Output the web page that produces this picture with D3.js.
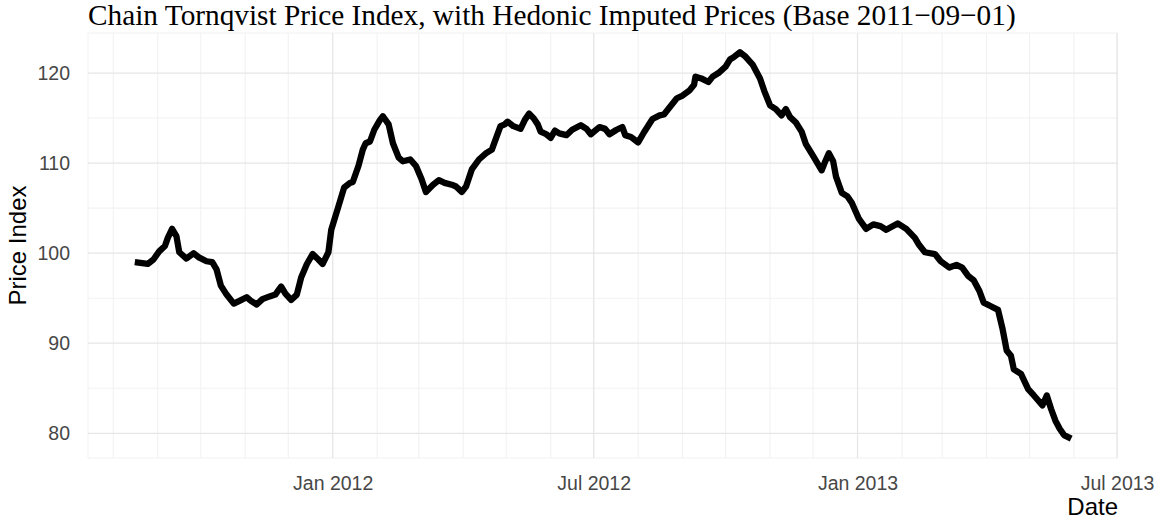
<!DOCTYPE html>
<html>
<head>
<meta charset="utf-8">
<script src="https://cdn.jsdelivr.net/npm/d3@7"></script>
<style>
  body { margin: 0; background: #fff; }
  svg { display: block; }
</style>
</head>
<body>
<div id="graph-placeholder"></div>
<script>
// values
var dates = [
  "2011-08-16", "2011-08-25", "2011-08-29", "2011-09-02", "2011-09-06", "2011-09-08",
  "2011-09-11", "2011-09-14", "2011-09-16", "2011-09-21", "2011-09-26", "2011-09-30",
  "2011-10-05", "2011-10-09", "2011-10-12", "2011-10-15", "2011-10-19", "2011-10-24",
  "2011-10-28", "2011-11-02", "2011-11-05", "2011-11-09", "2011-11-13", "2011-11-18",
  "2011-11-22", "2011-11-26", "2011-11-29", "2011-12-03", "2011-12-07", "2011-12-10",
  "2011-12-14", "2011-12-18", "2011-12-22", "2011-12-25", "2011-12-29", "2011-12-31",
  "2012-01-05", "2012-01-09", "2012-01-13", "2012-01-15", "2012-01-19", "2012-01-22",
  "2012-01-24", "2012-01-27", "2012-01-30", "2012-02-03", "2012-02-05", "2012-02-09",
  "2012-02-12", "2012-02-16", "2012-02-19", "2012-02-24", "2012-02-28", "2012-03-03",
  "2012-03-06", "2012-03-11", "2012-03-15", "2012-03-19", "2012-03-24", "2012-03-27",
  "2012-03-31", "2012-04-03", "2012-04-07", "2012-04-12", "2012-04-17", "2012-04-21",
  "2012-04-24", "2012-04-27", "2012-04-30", "2012-05-02", "2012-05-06", "2012-05-11",
  "2012-05-14", "2012-05-17", "2012-05-20", "2012-05-23", "2012-05-25", "2012-05-29",
  "2012-06-01", "2012-06-04", "2012-06-07", "2012-06-12", "2012-06-16", "2012-06-22",
  "2012-06-26", "2012-06-29", "2012-07-05", "2012-07-09", "2012-07-12", "2012-07-17",
  "2012-07-21", "2012-07-23", "2012-07-27", "2012-08-01", "2012-08-05", "2012-08-11",
  "2012-08-16", "2012-08-19", "2012-08-23", "2012-08-28", "2012-09-01", "2012-09-06",
  "2012-09-09", "2012-09-10", "2012-09-14", "2012-09-19", "2012-09-22", "2012-09-26",
  "2012-10-01", "2012-10-04", "2012-10-07", "2012-10-11", "2012-10-15", "2012-10-20",
  "2012-10-25", "2012-10-28", "2012-11-01", "2012-11-05", "2012-11-09", "2012-11-12",
  "2012-11-15", "2012-11-19", "2012-11-23", "2012-11-26", "2012-12-01", "2012-12-07",
  "2012-12-09", "2012-12-12", "2012-12-15", "2012-12-17", "2012-12-21", "2012-12-25",
  "2012-12-28", "2013-01-02", "2013-01-07", "2013-01-12", "2013-01-17", "2013-01-21",
  "2013-01-29", "2013-02-04", "2013-02-10", "2013-02-13", "2013-02-17", "2013-02-24",
  "2013-02-28", "2013-03-06", "2013-03-11", "2013-03-15", "2013-03-19", "2013-03-23",
  "2013-03-27", "2013-03-30", "2013-04-04", "2013-04-09", "2013-04-12", "2013-04-15",
  "2013-04-18", "2013-04-20", "2013-04-25", "2013-04-30", "2013-05-04", "2013-05-10",
  "2013-05-13", "2013-05-16", "2013-05-19", "2013-05-22", "2013-05-25", "2013-05-30"
];

var priceIndex = [
  99.0, 98.8, 99.3, 100.2, 100.8, 101.7,
  102.7, 101.9, 100.1, 99.4, 100.0, 99.5,
  99.1, 99.0, 98.2, 96.4, 95.4, 94.4,
  94.7, 95.1, 94.7, 94.3, 94.9, 95.2,
  95.4, 96.3, 95.5, 94.8, 95.4, 97.3,
  98.8, 99.9, 99.3, 98.8, 100.1, 102.6,
  105.2, 107.3, 107.8, 107.9, 109.7, 111.5,
  112.2, 112.4, 113.7, 114.8, 115.2, 114.3,
  112.2, 110.6, 110.2, 110.4, 109.7, 108.2,
  106.8, 107.6, 108.1, 107.8, 107.6, 107.4,
  106.8, 107.4, 109.3, 110.4, 111.1, 111.5,
  112.8, 114.1, 114.3, 114.6, 114.1, 113.8,
  114.8, 115.5, 115.0, 114.3, 113.5, 113.2,
  112.8, 113.6, 113.3, 113.1, 113.7, 114.2,
  113.8, 113.2, 114.0, 113.8, 113.2, 113.7,
  114.0, 113.1, 112.9, 112.3, 113.4, 114.9,
  115.3, 115.4, 116.2, 117.2, 117.5, 118.1,
  118.7, 119.6, 119.4, 119.0, 119.6, 120.0,
  120.7, 121.5, 121.8, 122.3, 121.8, 120.9,
  119.4, 118.0, 116.4, 116.0, 115.3, 116.0,
  115.1, 114.5, 113.5, 112.1, 110.8, 109.2,
  110.0, 111.1, 110.2, 108.5, 106.7, 106.3,
  105.6, 103.8, 102.7, 103.2, 103.0, 102.6,
  103.3, 102.7, 101.7, 100.9, 100.1, 99.9,
  99.1, 98.4, 98.7, 98.4, 97.5, 97.0,
  95.8, 94.5, 94.1, 93.7, 91.7, 89.2,
  88.6, 87.1, 86.6, 84.9, 84.2, 83.1,
  84.2, 82.7, 81.4, 80.5, 79.8, 79.4
];

var yTicks = [80, 90, 100, 110, 120];
var yMinor = [85, 95, 105, 115];
var xTicks = ["2012-01-01", "2012-07-01", "2013-01-01", "2013-07-01"];

var titleText = "Chain Tornqvist Price Index, with Hedonic Imputed Prices (Base 2011\u221209\u221201)";

var parseDate = d3.timeParse("%Y-%m-%d");

var data = dates.map(function(d, i) {
  return {date: parseDate(d), value: priceIndex[i]};
});

var margin = {top: 33, right: 41, bottom: 62, left: 88},
    width = 1159 - margin.left - margin.right,
    height = 520 - margin.top - margin.bottom;

// ggplot style 5% expansion on both axes
var xExt = d3.extent(data, function(d) { return d.date; }),
    xPad = (xExt[1] - xExt[0]) * 0.05;
var yExt = d3.extent(data, function(d) { return d.value; }),
    yPad = (yExt[1] - yExt[0]) * 0.05;

var x = d3.scaleTime()
    .domain([new Date(+xExt[0] - xPad), new Date(+xExt[1] + xPad)])
    .range([0, width]);

var y = d3.scaleLinear()
    .domain([yExt[0] - yPad, yExt[1] + yPad])
    .range([height, 0]);

var svg = d3.select("#graph-placeholder").append("svg")
    .attr("width", width + margin.left + margin.right)
    .attr("height", height + margin.top + margin.bottom)
    .append("g")
    .attr("transform", "translate(" + margin.left + "," + margin.top + ")");

// minor grid: every month, half-way y values, plus panel edges
var months = d3.timeMonth.range(x.domain()[0], x.domain()[1]);

var minor = svg.append("g").attr("class", "grid minor")
    .attr("stroke", "#f2f2f2")
    .attr("stroke-width", 1.1);

minor.selectAll("line.mx").data(months).enter().append("line")
    .attr("class", "mx")
    .attr("x1", function(d) { return x(d); })
    .attr("x2", function(d) { return x(d); })
    .attr("y1", 0)
    .attr("y2", height);

minor.selectAll("line.my").data(yMinor).enter().append("line")
    .attr("class", "my")
    .attr("x1", 0)
    .attr("x2", width)
    .attr("y1", function(d) { return y(d); })
    .attr("y2", function(d) { return y(d); });

minor.selectAll("line.edge").data(y.domain()).enter().append("line")
    .attr("class", "edge")
    .attr("x1", 0)
    .attr("x2", width)
    .attr("y1", function(d) { return y(d); })
    .attr("y2", function(d) { return y(d); });

minor.append("line")
    .attr("x1", x(x.domain()[0]))
    .attr("x2", x(x.domain()[0]))
    .attr("y1", 0)
    .attr("y2", height);

// major grid
var major = svg.append("g").attr("class", "grid major")
    .attr("stroke", "#e6e6e6")
    .attr("stroke-width", 1.2);

major.selectAll("line.gx").data(xTicks).enter().append("line")
    .attr("class", "gx")
    .attr("x1", function(d) { return x(parseDate(d)); })
    .attr("x2", function(d) { return x(parseDate(d)); })
    .attr("y1", 0)
    .attr("y2", height);

major.selectAll("line.gy").data(yTicks).enter().append("line")
    .attr("class", "gy")
    .attr("x1", 0)
    .attr("x2", width)
    .attr("y1", function(d) { return y(d); })
    .attr("y2", function(d) { return y(d); });

// axes, ticks hidden like theme_minimal
var xAxis = d3.axisBottom(x)
    .tickValues(xTicks.map(parseDate))
    .tickFormat(d3.timeFormat("%b %Y"))
    .tickSize(0)
    .tickPadding(18);

var yAxis = d3.axisLeft(y)
    .tickValues(yTicks)
    .tickSize(0)
    .tickPadding(18);

svg.append("g")
    .attr("class", "x axis")
    .attr("transform", "translate(0," + height + ")")
    .call(xAxis);

svg.append("g")
    .attr("class", "y axis")
    .call(yAxis);

svg.selectAll(".axis .domain").remove();
svg.selectAll(".axis text")
    .attr("fill", "#474747")
    .style("font-family", "'Liberation Sans', Arial, sans-serif")
    .style("font-size", "19.5px");

var line = d3.line()
    .x(function(d) { return x(d.date); })
    .y(function(d) { return y(d.value); });

svg.append("path")
    .datum(data)
    .attr("fill", "none")
    .attr("stroke", "#000")
    .attr("stroke-width", 6.3)
    .attr("stroke-linejoin", "round")
    .attr("stroke-linecap", "butt")
    .attr("d", line);

// titles
svg.append("text")
    .attr("x", 0)
    .attr("y", -8.5)
    .style("font-family", "'Liberation Serif', 'Times New Roman', serif")
    .style("font-size", "29.3px")
    .attr("fill", "#000")
    .text(titleText);

svg.append("text")
    .attr("x", width)
    .attr("y", height + 57)
    .attr("text-anchor", "end")
    .style("font-family", "'Liberation Sans', Arial, sans-serif")
    .style("font-size", "24px")
    .attr("fill", "#000")
    .text("Date");

svg.append("text")
    .attr("transform", "rotate(-90)")
    .attr("x", -height / 2)
    .attr("y", -62)
    .attr("text-anchor", "middle")
    .style("font-family", "'Liberation Sans', Arial, sans-serif")
    .style("font-size", "24px")
    .attr("fill", "#000")
    .text("Price Index");
</script>
</body>
</html>
